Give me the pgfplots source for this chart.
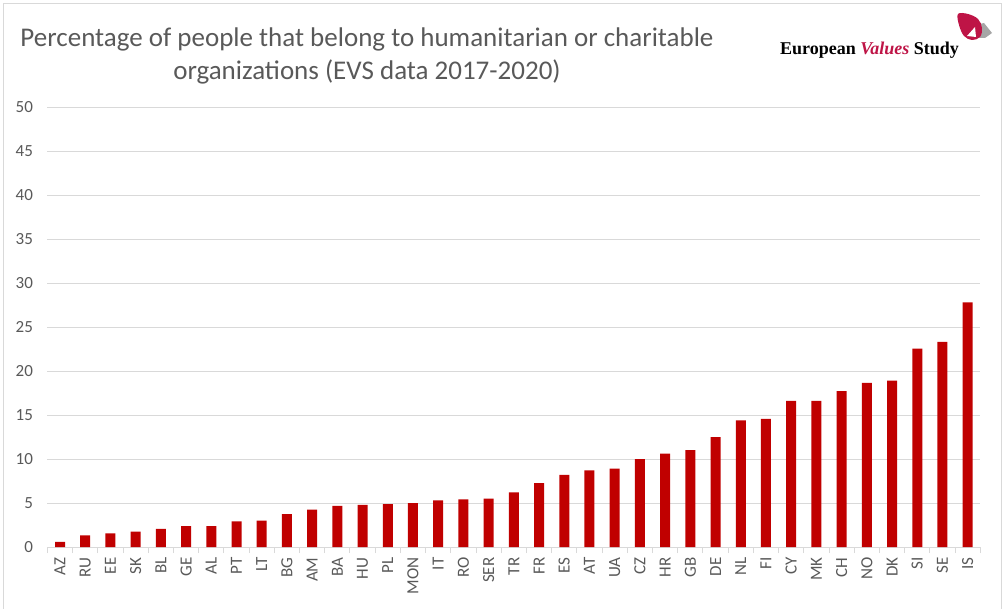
\documentclass[border=0pt]{standalone}
\usepackage{fontspec}
\setmainfont{Carlito}
\newfontfamily\logofont{Liberation Serif}
\usepackage{pgfplots}
\pgfplotsset{compat=1.18}
\definecolor{barred}{HTML}{C00000}
\definecolor{gridc}{HTML}{D9D9D9}
\definecolor{txt}{HTML}{595959}
\definecolor{evs}{RGB}{190,20,70}
\definecolor{logogray}{HTML}{A6A6A6}
\begin{document}
\begin{tikzpicture}
\useasboundingbox (0,0) rectangle (1004pt,608pt);
\begin{scope}[shift={(0pt,608pt)},x=1pt,y=-1pt]
 \draw[gridc, line width=1pt] (3,4) rectangle (1001,620);
 \node[anchor=base, text=txt, font=\fontsize{27}{32}\selectfont, inner sep=0pt] at (367,47) {Percentage of people that belong to humanitarian or charitable};
 \node[anchor=base, text=txt, font=\fontsize{27}{32}\selectfont, inner sep=0pt] at (367,80) {organizations (EVS data 2017-2020)};
 \node[anchor=base west, inner sep=0pt, font=\logofont\bfseries\fontsize{18}{21}\selectfont] at (780,55) {European \textcolor{evs}{\itshape Values} Study};
 \fill[logogray] (976,25) -- (984,23) -- (992,33) -- (985,38) -- (976,38) -- cycle;
 \fill[evs] plot[smooth cycle, tension=0.6] coordinates {(958,14) (968,14) (978,19) (982,28) (980,37) (972,40) (964,36) (959,25)};
 \fill[white] (967,36) -- (975,27) -- (976,37) -- cycle;
\end{scope}
\begin{axis}[
  at={(47.4pt,61pt)}, anchor=south west, scale only axis,
  width=932.9pt, height=440pt,
  ybar, bar width=10pt, bar shift=0pt,
  xmin=-0.5, xmax=36.5, ymin=0, ymax=50,
  xtick={0,...,36},
  xticklabels={AZ,RU,EE,SK,BL,GE,AL,PT,LT,BG,AM,BA,HU,PL,MON,IT,RO,SER,TR,FR,ES,AT,UA,CZ,HR,GB,DE,NL,FI,CY,MK,CH,NO,DK,SI,SE,IS},
  minor xtick={-0.5,0.5,...,36.5},
  ytick={0,5,...,50},
  major tick length=0pt, minor tick length=6pt, tick align=outside,
  minor x tick style={gridc, line width=1pt},
  ymajorgrids, grid style={gridc, line width=1pt},
  axis x line*=bottom, axis y line*=left,
  y axis line style={draw=none},
  x axis line style={gridc, line width=1pt, -},
  tick label style={font=\fontsize{17}{20}\selectfont, text=txt},
  /pgf/number format/assume math mode=true,
  xticklabel style={yshift=-7pt, rotate=90, anchor=east},
  yticklabel style={xshift=-11pt},
]
\addplot[fill=barred, draw=none] coordinates {
(0,0.57) (1,1.33) (2,1.55) (3,1.75) (4,2.06) (5,2.37) (6,2.38) (7,2.9) (8,3.0) (9,3.74)
(10,4.25) (11,4.68) (12,4.78) (13,4.88) (14,5.0) (15,5.3) (16,5.42) (17,5.5) (18,6.2) (19,7.25)
(20,8.2) (21,8.7) (22,8.9) (23,10.0) (24,10.6) (25,11.0) (26,12.5) (27,14.4) (28,14.55) (29,16.6)
(30,16.6) (31,17.7) (32,18.65) (33,18.9) (34,22.55) (35,23.3) (36,27.8)
};
\end{axis}
\end{tikzpicture}
\end{document}
